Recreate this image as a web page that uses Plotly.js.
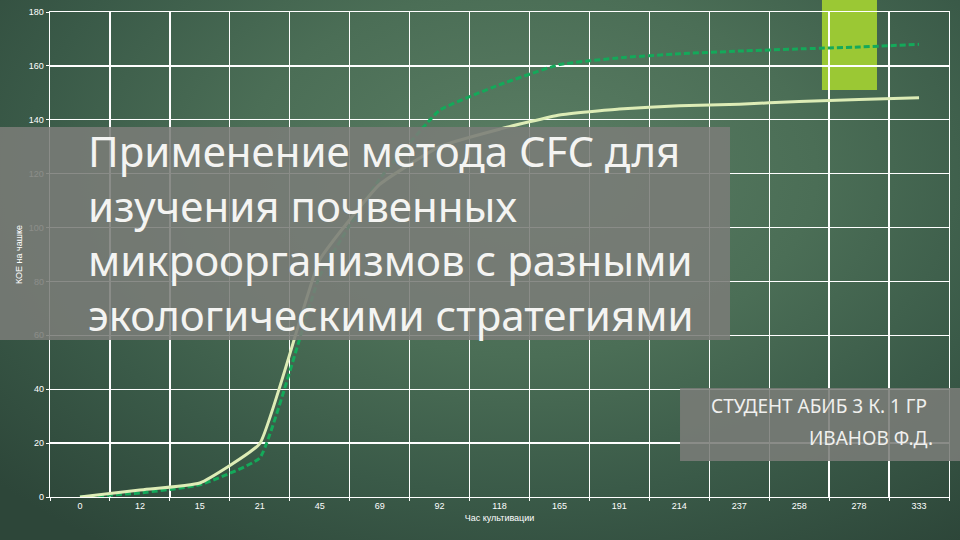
<!DOCTYPE html>
<html>
<head>
<meta charset="utf-8">
<script src="https://cdn.plot.ly/plotly-3.0.1.min.js"></script>
<style>
  html, body { margin: 0; padding: 0; width: 960px; height: 540px; overflow: hidden; }
  body { background: radial-gradient(ellipse 75% 85% at 55% 32%, #5b7e64 0%, #4b6e56 40%, #3a5a48 70%, #2d4639 100%); }
  #chart { width: 960px; height: 540px; }
</style>
</head>
<body>
<div id="chart"></div>
<script>
// ---- data ----
var categories = ["0", "12", "15", "21", "45", "69", "92", "118", "165", "191", "214", "237", "258", "278", "333"];
var solidValues = [0, 2.6, 5.2, 19.8, 88, 116, 130, 136.5, 141.8, 144, 145.2, 145.8, 146.8, 147.5, 148.2];
var dashedValues = [0, 1.5, 4.5, 14.5, 82, 118, 143.5, 153, 160.5, 163, 164.5, 165.5, 166.3, 167, 168];
var xAxisTitle = "Час культивации";
var yAxisTitle = "КОЕ на чашке";
var titleLines = ["Применение метода CFC для", "изучения почвенных", "микроорганизмов с разными", "экологическими стратегиями"];
var studentLines = ["СТУДЕНТ АБИБ 3 К. 1 ГР", "ИВАНОВ Ф.Д."];

var traces = [
  {
    type: "scatter", mode: "lines", x: categories, y: dashedValues,
    line: { color: "#14a95a", width: 3, dash: "6px,3px", shape: "spline", smoothing: 0.35 },
    hoverinfo: "skip", showlegend: false
  },
  {
    type: "scatter", mode: "lines", x: categories, y: solidValues,
    line: { color: "#ddecb6", width: 3, shape: "spline", smoothing: 0.35 },
    hoverinfo: "skip", showlegend: false
  }
];

var annotations = [{
  text: titleLines.join("<br>"), xref: "paper", yref: "paper", x: 0.040, y: 0.5445,
  xanchor: "left", yanchor: "middle", align: "left", showarrow: false,
  font: { family: "Noto Sans, DejaVu Sans, sans-serif", size: 42, color: "#f4f4f2" }
}];
var studentY = [0.1876, 0.1216];
var studentX = [0.978, 0.984];
studentLines.forEach(function (t, i) {
  annotations.push({
    text: t, xref: "paper", yref: "paper", x: studentX[i], y: studentY[i],
    xanchor: "right", yanchor: "middle", showarrow: false,
    font: { family: "Noto Sans, DejaVu Sans, sans-serif", size: 19, color: "#f0f0ee" }
  });
});

var layout = {
  width: 960, height: 540,
  margin: { l: 50, r: 11, t: 12, b: 43 },
  paper_bgcolor: "rgba(0,0,0,0)",
  plot_bgcolor: "rgba(0,0,0,0)",
  font: { family: "Liberation Sans, Arial, sans-serif", color: "#ffffff", size: 9 },
  showlegend: false,
  xaxis: {
    type: "category", range: [-0.5, 14.5], tickson: "boundaries",
    showgrid: true, gridcolor: "#ffffff", gridwidth: 1.3,
    showline: true, mirror: true, linecolor: "#ffffff", linewidth: 1.3,
    ticks: "outside", ticklen: 3, tickcolor: "#ffffff",
    tickfont: { size: 9, color: "#ffffff" },
    title: { text: xAxisTitle, font: { size: 9, color: "#ffffff" }, standoff: 4 },
    zeroline: false, fixedrange: true
  },
  yaxis: {
    range: [0, 180], dtick: 20,
    showgrid: true, gridcolor: "#ffffff", gridwidth: 1.3,
    showline: true, mirror: true, linecolor: "#ffffff", linewidth: 1.3,
    ticks: "outside", ticklen: 3, tickcolor: "#ffffff",
    tickfont: { size: 9, color: "#ffffff" },
    title: { text: yAxisTitle, font: { size: 9, color: "#ffffff" }, standoff: 4 },
    zeroline: false, fixedrange: true
  },
  shapes: [
    { type: "rect", xref: "paper", yref: "paper", x0: 0.8587, x1: 0.9199, y0: 0.8392, y1: 1.03,
      fillcolor: "#9bc834", line: { width: 0 }, layer: "below" },
    { type: "rect", xref: "paper", yref: "paper", x0: -0.06, x1: 0.7564, y0: 0.3237, y1: 0.7629,
      fillcolor: "#7a7c78", opacity: 0.88, line: { width: 0 }, layer: "above" },
    { type: "rect", xref: "paper", yref: "paper", x0: 0.7008, x1: 1.02, y0: 0.0742, y1: 0.2247,
      fillcolor: "#7a7c78", opacity: 0.88, line: { width: 0 }, layer: "above" }
  ],
  annotations: annotations
};

Plotly.newPlot("chart", traces, layout, { staticPlot: true, displayModeBar: false });
</script>
</body>
</html>
